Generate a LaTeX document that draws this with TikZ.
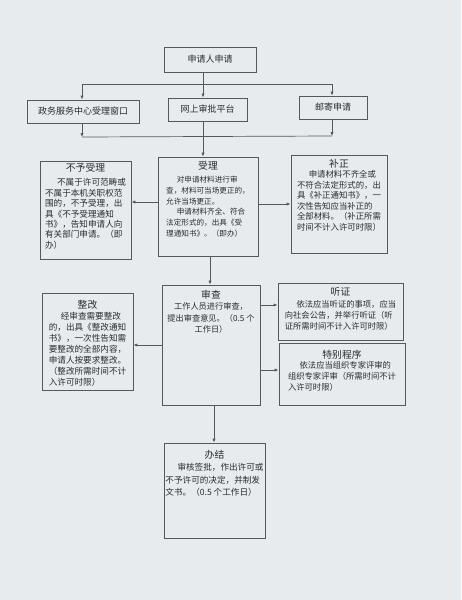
\documentclass[tikz,border=0pt]{standalone}
\usepackage{fontspec}
\setmainfont{Noto Sans CJK SC}
\usetikzlibrary{arrows.meta}
\definecolor{bgc}{HTML}{E7EBEE}
\definecolor{lnc}{HTML}{55595D}
\definecolor{txc}{HTML}{2A2C2F}
\newcommand{\fs}[2]{\fontsize{#1}{#2}\selectfont}
\newcommand{\ind}{\hspace*{1.4em}}
\begin{document}
\begin{tikzpicture}[x=1pt,y=-1pt,
  box/.style={draw=lnc, line width=0.8pt, inner sep=0pt, text=txc, font=\fs{9}{11}},
  ttl/.style={font=\fs{9.8}{11}, text=txc, inner sep=0pt},
  body/.style={text=txc, align=left, inner sep=0pt, anchor=north},
  conn/.style={draw=lnc, line width=0.7pt},
  arr/.style={conn, -{Latex[length=4pt,width=3.2pt]}}
]
\useasboundingbox (0,0) rectangle (461,600);
\fill[bgc] (0,0) rectangle (461,600);

% top rows
\node[box, minimum width=92pt, minimum height=25pt] (top) at (210,59.5) {申请人申请};
\node[box, minimum width=112pt, minimum height=23pt] (zw) at (83,111.5) {政务服务中心受理窗口};
\node[box, minimum width=79pt, minimum height=23pt] (ws) at (207.5,109.5) {网上审批平台};
\node[box, minimum width=68pt, minimum height=23pt] (yj) at (333,107.5) {邮寄申请};

% third row
\node[box, minimum width=91pt, minimum height=98pt] (bysl) at (85.5,210) {};
\node[box, minimum width=100pt, minimum height=99pt] (sl) at (208,206.5) {};
\node[box, minimum width=96pt, minimum height=98pt] (bz) at (339,204) {};

% fourth row
\node[box, minimum width=98pt, minimum height=120pt] (sc) at (211,345) {};
\node[box, minimum width=91pt, minimum height=97pt] (zg) at (87.5,341.5) {};
\node[box, minimum width=125pt, minimum height=57pt] (tz) at (340.5,311.5) {};
\node[box, minimum width=126pt, minimum height=62pt] (tb) at (342,374) {};

% last
\node[box, minimum width=101pt, minimum height=95pt] (bj) at (214.5,490.5) {};

% texts
\node[ttl] (t1) at (85.5,168) {不予受理};
\node[body, font=\fs{8.6}{10.4}] (b1) at (85.5,178.5) {\ind 不属于许可范畴或\\不属于本机关职权范\\围的，不予受理，出\\具《不予受理通知\\书》，告知申请人向\\有关部门申请。（即\\办）};

\node[ttl] (t2) at (208,166) {受理};
\node[body, font=\fs{7.6}{10.7}] (b2) at (208,176) {\ind 对申请材料进行审\\查，材料可当场更正的，\\允许当场更正。\\\ind 申请材料齐全、符合\\法定形式的，出具《受\\理通知书》。（即办）};

\node[ttl] (t3) at (339,164) {补正};
\node[body, font=\fs{8.4}{10.5}] (b3) at (339,170.5) {\ind 申请材料不齐全或\\不符合法定形式的，出\\具《补正通知书》，一\\次性告知应当补正的\\全部材料。（补正所需\\时间不计入许可时限）};

\node[ttl] (t4) at (87.5,305) {整改};
\node[body, font=\fs{8.6}{11}] (b4) at (87.5,312.5) {\ind 经审查需要整改\\的，出具《整改通知\\书》，一次性告知需\\要整改的全部内容，\\申请人按要求整改。\\（整改所需时间不计\\入许可时限）};

\node[ttl] (t5) at (211,295) {审查};
\node[body, align=center, font=\fs{8.2}{11.5}] (b5) at (211,302.5) {工作人员进行审查，\\提出审查意见。（0.5 个\\工作日）};

\node[ttl] (t6) at (340.5,292) {听证};
\node[body, font=\fs{8.3}{11}] (b6) at (340.5,300.5) {\ind 依法应当听证的事项，应当\\向社会公告，并举行听证（听\\证所需时间不计入许可时限）};

\node[ttl] (t7) at (342,355) {特别程序};
\node[body, font=\fs{8.3}{11}] (b7) at (342,361.5) {\ind 依法应当组织专家评审的\\组织专家评审（所需时间不计\\入许可时限）};

\node[ttl] (t8) at (214.5,455) {办结};
\node[body, font=\fs{8.6}{12.5}] (b8) at (214.5,463.5) {\ind 审核签批，作出许可或\\不予许可的决定，并制发\\文书。（0.5 个工作日）};

% connectors top
\coordinate (j1) at (203,84);
\coordinate (j1l) at (82,84);
\coordinate (j1r) at (332,84);
\draw[conn] (top.south -| j1) -- (j1);
\draw[conn] (j1l) -- (j1r);
\draw[arr] (j1l) -- (j1l |- zw.north);
\draw[arr] (j1) -- (j1 |- ws.north);
\draw[arr] (j1r) -- (j1r |- yj.north);

\coordinate (j2l) at (82,137);
\coordinate (j2r) at (332,136);
\draw[arr] (j2l |- zw.south) -- (j2l);
\draw[arr] (j2r |- yj.south) -- (j2r);
\draw[conn] (j2l) -- (j2r);
\draw[arr] (ws.south -| j1) -- (sl.north -| j1);

% side connectors
\coordinate (a1) at (0,202);
\coordinate (a2) at (0,204);
\coordinate (a3) at (0,345);
\coordinate (a4) at (0,305);
\coordinate (a5) at (0,370);
\draw[arr] (sl.west |- a1) -- (bysl.east |- a1);
\draw[arr] (sl.east |- a2) -- (bz.west |- a2);
\draw[arr] (sc.west |- a3) -- (zg.east |- a3);
\draw[arr] (sc.east |- a4) -- (tz.west |- a4);
\draw[arr] (sc.east |- a5) -- (tb.west |- a5);

\coordinate (v1) at (210,0);
\coordinate (v2) at (214,0);
\draw[arr] (sl.south -| v1) -- (sc.north -| v1);
\draw[arr] (sc.south -| v2) -- (bj.north -| v2);
\end{tikzpicture}
\end{document}
